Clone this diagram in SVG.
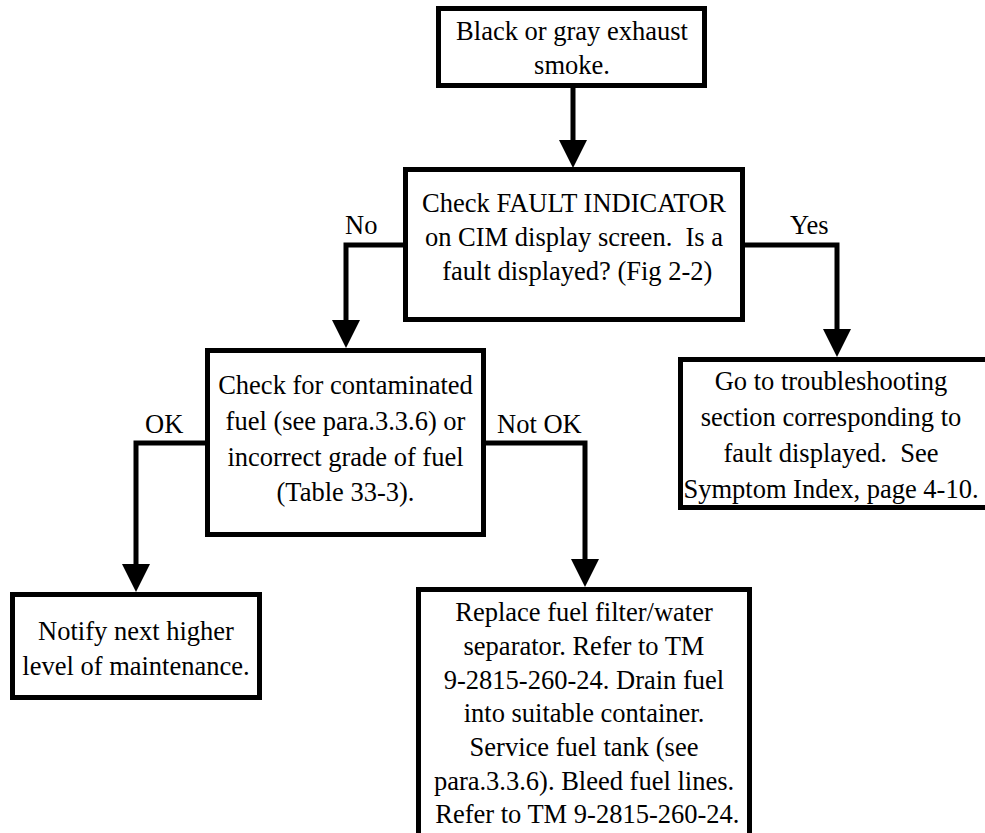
<svg xmlns="http://www.w3.org/2000/svg" width="985" height="833" viewBox="0 0 985 833">
<defs>
<style>
.box{fill:#fff;stroke:#000;stroke-width:5}
.t{font-family:"Liberation Serif","Times New Roman",serif;font-size:26.5px;fill:#000;text-anchor:middle;white-space:pre}
.lbl{font-family:"Liberation Serif","Times New Roman",serif;font-size:26.5px;fill:#000}
.c{fill:none;stroke:#000;stroke-width:5;stroke-linejoin:miter}
.ah{fill:#000}
</style>
</defs>
<rect width="985" height="833" fill="#fff"/>
<g id="connectors">
<path class="c" d="M573,88 V142"/>
<polygon class="ah" points="559,140 587,140 573,168"/>
<path class="c" d="M403,245 H346 V322"/>
<polygon class="ah" points="332,320 360,320 346,348"/>
<path class="c" d="M745,245 H837 V331"/>
<polygon class="ah" points="823,329 851,329 837,357"/>
<path class="c" d="M205,443 H136 V566"/>
<polygon class="ah" points="122,564 150,564 136,592"/>
<path class="c" d="M486,443 H585 V561"/>
<polygon class="ah" points="571,559 599,559 585,587"/>
</g>
<g id="label-no"><text class="lbl" x="345" y="234">No</text></g>
<g id="label-yes"><text class="lbl" x="790" y="234">Yes</text></g>
<g id="label-ok"><text class="lbl" x="145" y="433">OK</text></g>
<g id="label-notok"><text class="lbl" x="497" y="433">Not OK</text></g>
<g id="n1">
<rect class="box" x="438.5" y="8.5" width="266" height="77"/>
<text class="t" x="572" y="40">Black or gray exhaust</text>
<text class="t" x="572" y="74">smoke.</text>
</g>
<g id="n2">
<rect class="box" x="405.5" y="169.5" width="337" height="150"/>
<text class="t" x="574" y="212">Check FAULT INDICATOR</text>
<text class="t" x="574" y="246" xml:space="preserve">on CIM display screen.  Is a</text>
<text class="t" x="574" y="280" xml:space="preserve"> fault displayed? (Fig 2-2)</text>
</g>
<g id="n3">
<rect class="box" x="207.5" y="350.5" width="276" height="184"/>
<text class="t" x="345.5" y="394">Check for contaminated</text>
<text class="t" x="345.5" y="430">fuel (see para.3.3.6) or</text>
<text class="t" x="345.5" y="466">incorrect grade of fuel</text>
<text class="t" x="345.5" y="501">(Table 33-3).</text>
</g>
<g id="n4">
<rect class="box" x="680.5" y="359.5" width="320" height="148"/>
<text class="t" x="831" y="390">Go to troubleshooting</text>
<text class="t" x="831" y="426">section corresponding to</text>
<text class="t" x="831" y="462" xml:space="preserve">fault displayed.  See</text>
<text class="t" x="831" y="498">Symptom Index, page 4-10.</text>
</g>
<g id="n5">
<rect class="box" x="12.5" y="594.5" width="247" height="103"/>
<text class="t" x="136" y="640">Notify next higher</text>
<text class="t" x="136" y="675">level of maintenance.</text>
</g>
<g id="n6">
<rect class="box" x="418.5" y="589.5" width="331" height="260"/>
<text class="t" x="584" y="621">Replace fuel filter/water</text>
<text class="t" x="584" y="655">separator. Refer to TM</text>
<text class="t" x="584" y="689">9-2815-260-24. Drain fuel</text>
<text class="t" x="584" y="722">into suitable container.</text>
<text class="t" x="584" y="756">Service fuel tank (see</text>
<text class="t" x="584" y="790">para.3.3.6). Bleed fuel lines.</text>
<text class="t" x="584" y="823" xml:space="preserve"> Refer to TM 9-2815-260-24.</text>
</g>
</svg>
